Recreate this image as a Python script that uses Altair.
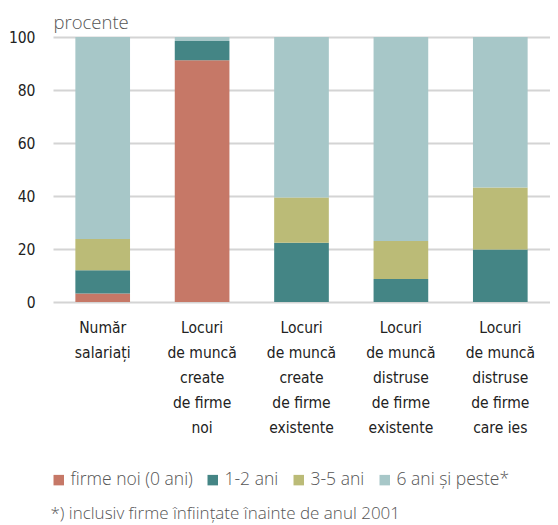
import altair as alt
import pandas as pd

categories = [
    "Număr\nsalariați",
    "Locuri\nde muncă\ncreate\nde firme\nnoi",
    "Locuri\nde muncă\ncreate\nde firme\nexistente",
    "Locuri\nde muncă\ndistruse\nde firme\nexistente",
    "Locuri\nde muncă\ndistruse\nde firme\ncare ies",
]
series = ["firme noi (0 ani)", "1-2 ani", "3-5 ani", "6 ani și peste*"]
colors = ["#C67867", "#448585", "#BBBB77", "#A7C7C8"]

v_noi = [3.2, 91.2, 0.0, 0.0, 0.0]
v_12 = [8.8, 7.3, 22.4, 8.7, 19.8]
v_35 = [11.8, 0.0, 17.0, 14.3, 23.4]
v_6 = [76.2, 1.5, 60.6, 77.0, 56.8]

y_ticks = [0, 20, 40, 60, 80, 100]
footnote = "*) inclusiv firme înființate înainte de anul 2001"

rows = []
for i, vals in enumerate([v_noi, v_12, v_35, v_6]):
    for c, v in zip(categories, vals):
        rows.append({"cat": c, "serie": series[i], "idx": i, "val": v})
df = pd.DataFrame(rows)

num_font = "'DejaVu Sans Condensed', 'Liberation Sans Narrow', 'Liberation Sans', sans-serif"
light_font = "'Open Sans', 'Noto Sans', sans-serif"

chart = alt.Chart(df).mark_bar().encode(
    x=alt.X(
        "cat:N",
        sort=categories,
        scale=alt.Scale(paddingInner=0.45, paddingOuter=0.225),
        axis=alt.Axis(
            title=None,
            labelAngle=0,
            labelExpr="split(datum.label, '\\n')",
            labelLineHeight=25,
            labelFontSize=15.5,
            labelFont=num_font,
            labelColor="#222222",
            labelBaseline="top",
            labelPadding=18,
            ticks=False,
            domain=False,
            grid=False,
        ),
    ),
    y=alt.Y(
        "val:Q",
        stack="zero",
        scale=alt.Scale(domain=[0, 100]),
        axis=alt.Axis(
            values=y_ticks,
            title="procente",
            titleAngle=0,
            titleX=0,
            titleY=-9,
            titleAlign="left",
            titleBaseline="alphabetic",
            titleFont=light_font,
            titleFontWeight=300,
            titleFontSize=18.5,
            titleColor="#555555",
            labelFont=num_font,
            labelFontSize=15.5,
            labelColor="#222222",
            labelPadding=18,
            ticks=False,
            domain=False,
            grid=True,
            gridColor="#d4d4d4",
            gridWidth=2,
        ),
    ),
    color=alt.Color(
        "serie:N",
        sort=series,
        scale=alt.Scale(domain=series, range=colors),
        legend=alt.Legend(
            title=None,
            orient="none",
            legendX=-3,
            legendY=434,
            direction="horizontal",
            symbolType="square",
            symbolSize=110,
            symbolStrokeWidth=0,
            labelFont=light_font,
            labelFontSize=17.5,
            labelFontWeight=300,
            labelColor="#555555",
            columnPadding=11,
            labelOffset=3,
        ),
    ),
    order=alt.Order("idx:Q"),
).properties(
    width=497,
    height=265,
    autosize=alt.AutoSizeParams(type="none"),
    padding={"left": 45, "top": 29, "right": 0, "bottom": 223},
    title=alt.TitleParams(
        footnote,
        orient="bottom",
        anchor="start",
        font=light_font,
        fontSize=17,
        fontWeight=300,
        color="#555555",
        offset=17,
        dx=42,
    ),
).configure_view(stroke=None)

chart.save("out.html", embed_options={"renderer": "svg", "actions": False})
